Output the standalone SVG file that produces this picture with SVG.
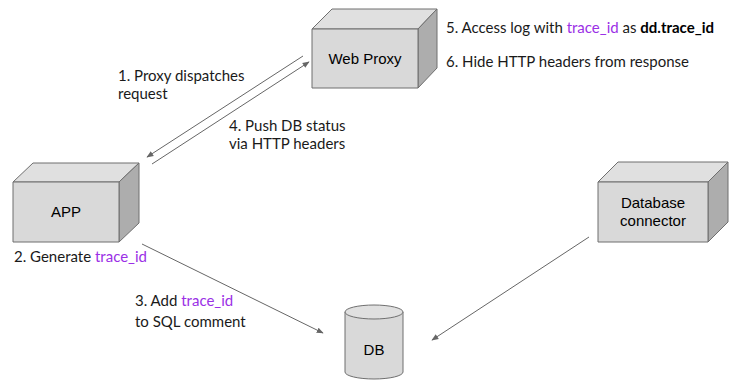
<svg xmlns="http://www.w3.org/2000/svg" width="730" height="381" viewBox="0 0 730 381">
  <style>
    .face { fill: #d9d9d9; stroke: #6f6f6f; stroke-width: 1; stroke-linejoin: round; }
    .top { fill: #e0e0e0; stroke: #6f6f6f; stroke-width: 1; stroke-linejoin: round; }
    .side { fill: #adadad; stroke: #6f6f6f; stroke-width: 1; stroke-linejoin: round; }
    .node-label { font-family: "Liberation Sans", Arial, sans-serif; font-size: 15px; fill: #000; text-anchor: middle; }
    .label { font-family: Lato, "Open Sans", sans-serif; font-size: 15px; fill: #1a1a1a; }
    .hl { fill: #9b30e6; }
    .bold { font-weight: bold; fill: #000; }
    .edge { stroke: #666; stroke-width: 1; fill: none; marker-end: url(#arrow); }
  </style>
  <defs>
    <marker id="arrow" viewBox="0 0 10 10" refX="9" refY="5" markerWidth="7" markerHeight="7" orient="auto" markerUnits="userSpaceOnUse">
      <path d="M0,1 L10,5 L0,9 Z" fill="#666"/>
    </marker>
  </defs>

  <rect width="730" height="381" fill="#ffffff"/>

  <g id="connectors">
    <line class="edge" x1="303" y1="56" x2="147" y2="157"/>
    <line class="edge" x1="152" y1="164" x2="309" y2="62"/>
    <line class="edge" x1="142" y1="244" x2="323" y2="333"/>
    <line class="edge" x1="589" y1="237" x2="432" y2="340"/>
  </g>

  <g id="web-proxy">
    <polygon class="top" points="312,29 332,9 437,9 418,29"/>
    <polygon class="side" points="418,29 437,9 437,68 418,88"/>
    <rect class="face" x="312" y="29" width="106" height="59"/>
    <text class="node-label" x="365" y="64">Web Proxy</text>
  </g>

  <g id="app">
    <polygon class="top" points="13,182 33,163 139,163 119,182"/>
    <polygon class="side" points="119,182 139,163 139,223 119,242"/>
    <rect class="face" x="13" y="182" width="106" height="60"/>
    <text class="node-label" x="66" y="217">APP</text>
  </g>

  <g id="database-connector">
    <polygon class="top" points="598,182 618,162 728,162 708,182"/>
    <polygon class="side" points="708,182 728,162 728,222 708,242"/>
    <rect class="face" x="598" y="182" width="110" height="60"/>
    <text class="node-label" x="653" y="208">Database</text>
    <text class="node-label" x="653" y="226">connector</text>
  </g>

  <g id="db">
    <path class="face" d="M345,312 L345,372 A29,7 0 0 0 403,372 L403,312"/>
    <ellipse class="top" cx="374" cy="312" rx="29" ry="7"/>
    <text class="node-label" x="374" y="355">DB</text>
  </g>

  <g id="labels">
    <text class="label" x="118" y="81">1. Proxy dispatches</text>
    <text class="label" x="118" y="99">request</text>
    <text class="label" x="229" y="131">4. Push DB status</text>
    <text class="label" x="229" y="149">via HTTP headers</text>
    <text class="label" x="446" y="33">5. Access log with <tspan class="hl">trace_id</tspan> as <tspan class="bold">dd.trace_id</tspan></text>
    <text class="label" x="446" y="67">6. Hide HTTP headers from response</text>
    <text class="label" x="14" y="262">2. Generate <tspan class="hl">trace_id</tspan></text>
    <text class="label" x="135" y="306">3. Add <tspan class="hl">trace_id</tspan></text>
    <text class="label" x="135" y="327">to SQL comment</text>
  </g>
</svg>
